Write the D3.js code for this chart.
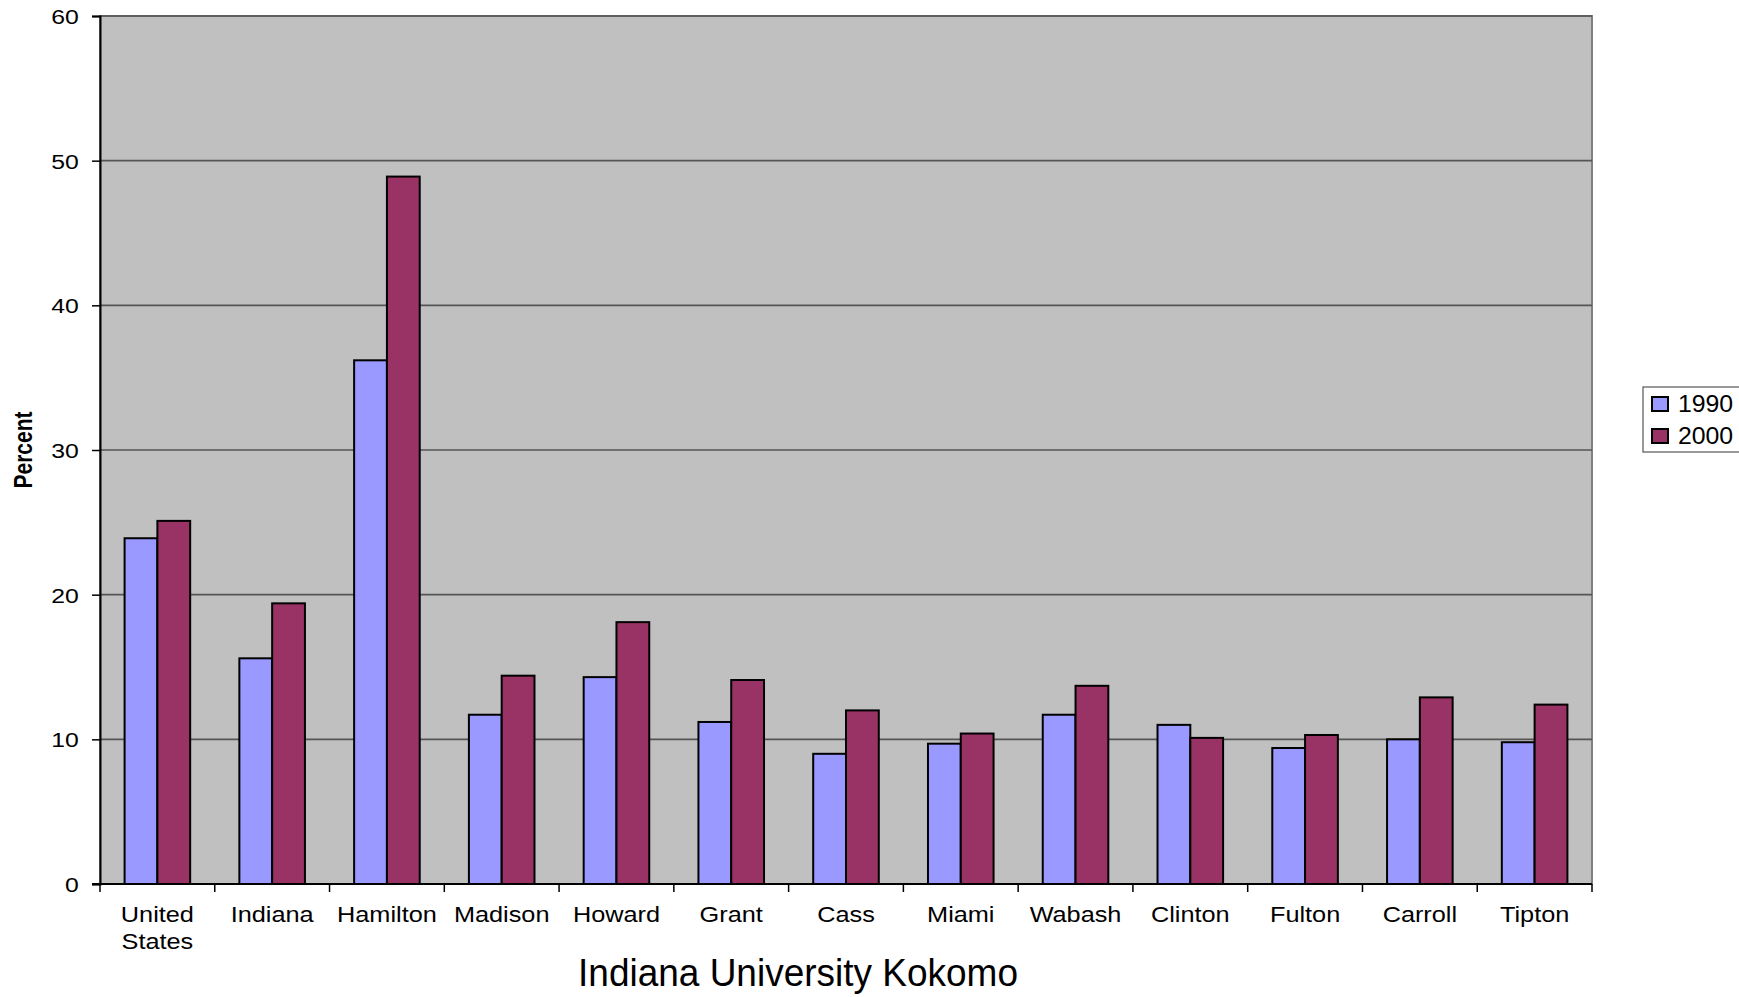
<!DOCTYPE html>
<html>
  <head>
    <title>Indiana University Kokomo</title>
    <script src="https://d3js.org/d3.v7.min.js"></script>
    <style>
      body {
        margin: 0;
        background: white;
      }
      text {
        font-family: "Liberation Sans", Arial, sans-serif;
        fill: black;
      }
    </style>
  </head>
  <body>
    <div id="chart"></div>
    <script>
      const categories = [
        "United States",
        "Indiana",
        "Hamilton",
        "Madison",
        "Howard",
        "Grant",
        "Cass",
        "Miami",
        "Wabash",
        "Clinton",
        "Fulton",
        "Carroll",
        "Tipton",
      ];
      const values1990 = [23.9, 15.6, 36.2, 11.7, 14.3, 11.2, 9.0, 9.7, 11.7, 11.0, 9.4, 10.0, 9.8];
      const values2000 = [25.1, 19.4, 48.9, 14.4, 18.1, 14.1, 12.0, 10.4, 13.7, 10.1, 10.3, 12.9, 12.4];
      const years = ["1990", "2000"];
      const yTicks = [0, 10, 20, 30, 40, 50, 60];

      const colors = { 1990: "#9999ff", 2000: "#993366" };

      const W = 1739,
        H = 997;
      const plot = { left: 100, right: 1592, top: 16, bottom: 884 };

      const svg = d3
        .select("#chart")
        .append("svg")
        .attr("width", W)
        .attr("height", H);

      const x = d3
        .scaleBand()
        .domain(categories)
        .range([plot.left, plot.right])
        .paddingInner(0)
        .paddingOuter(0);

      // Excel-style gap width of 150%: two bars + 1.5 bar widths of gap
      const barW = x.bandwidth() / 3.5;
      const xs = d3
        .scaleBand()
        .domain(years)
        .range([barW * 0.75, barW * 2.75]);

      const y = d3.scaleLinear().domain([0, 60]).range([plot.bottom, plot.top]);

      // plot background
      svg
        .append("rect")
        .attr("x", plot.left)
        .attr("y", plot.top)
        .attr("width", plot.right - plot.left)
        .attr("height", plot.bottom - plot.top)
        .attr("fill", "#c0c0c0")
        .attr("stroke", "#808080")
        .attr("stroke-width", 2);

      // gridlines
      svg
        .append("g")
        .selectAll("line")
        .data(yTicks.filter((d) => d > 0))
        .join("line")
        .attr("x1", plot.left)
        .attr("x2", plot.right)
        .attr("y1", (d) => y(d))
        .attr("y2", (d) => y(d))
        .attr("stroke", "#555")
        .attr("stroke-width", 1.6);

      // bars
      const rows = categories.map((c, i) => ({
        category: c,
        values: [
          { year: "1990", value: values1990[i] },
          { year: "2000", value: values2000[i] },
        ],
      }));

      svg
        .append("g")
        .selectAll("g")
        .data(rows)
        .join("g")
        .attr("transform", (d) => `translate(${x(d.category)},0)`)
        .selectAll("rect")
        .data((d) => d.values)
        .join("rect")
        .attr("x", (d) => xs(d.year))
        .attr("width", xs.bandwidth())
        .attr("y", (d) => y(d.value))
        .attr("height", (d) => y(0) - y(d.value))
        .attr("fill", (d) => colors[d.year])
        .attr("stroke", "black")
        .attr("stroke-width", 2);

      // Y axis
      const yAxis = svg
        .append("g")
        .attr("transform", `translate(${plot.left},0)`)
        .call(d3.axisLeft(y).tickValues(yTicks).tickSize(8).tickPadding(10));
      yAxis.select(".domain").attr("stroke", "black").attr("stroke-width", 2);
      yAxis.selectAll(".tick line").attr("stroke", "black").attr("stroke-width", 1.5);
      yAxis
        .selectAll(".tick text")
        .style("font-size", "21px")
        .attr("dy", "0.36em")
        .attr("transform", "scale(1.18,1)");

      // X axis line with ticks at category boundaries
      const xAxis = svg.append("g");
      xAxis
        .append("line")
        .attr("x1", plot.left - 8)
        .attr("x2", plot.right)
        .attr("y1", plot.bottom)
        .attr("y2", plot.bottom)
        .attr("stroke", "black")
        .attr("stroke-width", 2);
      xAxis
        .selectAll(".bound")
        .data(categories.map((c) => x(c)).concat([x.range()[1]]))
        .join("line")
        .attr("class", "bound")
        .attr("x1", (d) => d)
        .attr("x2", (d) => d)
        .attr("y1", plot.bottom)
        .attr("y2", plot.bottom + 8)
        .attr("stroke", "black")
        .attr("stroke-width", 1.5);

      const catLabels = xAxis
        .selectAll(".cat")
        .data(categories)
        .join("text")
        .attr("class", "cat")
        .attr("text-anchor", "middle")
        .attr("transform", (d) => `translate(${x(d) + x.bandwidth() / 2},922) scale(1.15,1)`)
        .style("font-size", "22px");
      catLabels
        .selectAll("tspan")
        .data((d) => d.split(" "))
        .join("tspan")
        .attr("x", 0)
        .attr("y", (d, i) => i * 27)
        .text((d) => d);

      // Y axis title
      svg
        .append("text")
        .attr("transform", "translate(32,450) rotate(-90) scale(1,1.25)")
        .attr("text-anchor", "middle")
        .style("font-size", "21px")
        .style("font-weight", "bold")
        .text("Percent");

      // X axis title
      svg
        .append("text")
        .attr("transform", "translate(798,986) scale(1,1.05)")
        .attr("text-anchor", "middle")
        .style("font-size", "37px")
        .text("Indiana University Kokomo");

      // legend (runs off the right edge as in the original)
      const legend = svg.append("g");
      legend
        .append("rect")
        .attr("x", 1643)
        .attr("y", 387)
        .attr("width", 110)
        .attr("height", 65)
        .attr("fill", "white")
        .attr("stroke", "#555")
        .attr("stroke-width", 1.2);
      const items = legend
        .selectAll(".item")
        .data(years)
        .join("g")
        .attr("class", "item")
        .attr("transform", (d, i) => `translate(1652,${397 + i * 32})`);
      items
        .append("rect")
        .attr("width", 16)
        .attr("height", 14)
        .attr("fill", (d) => colors[d])
        .attr("stroke", "black")
        .attr("stroke-width", 2);
      items
        .append("text")
        .attr("x", 24)
        .attr("y", 15)
        .attr("transform", "scale(1.08,1)")
        .style("font-size", "23px")
        .text((d) => d);
    </script>
  </body>
</html>
